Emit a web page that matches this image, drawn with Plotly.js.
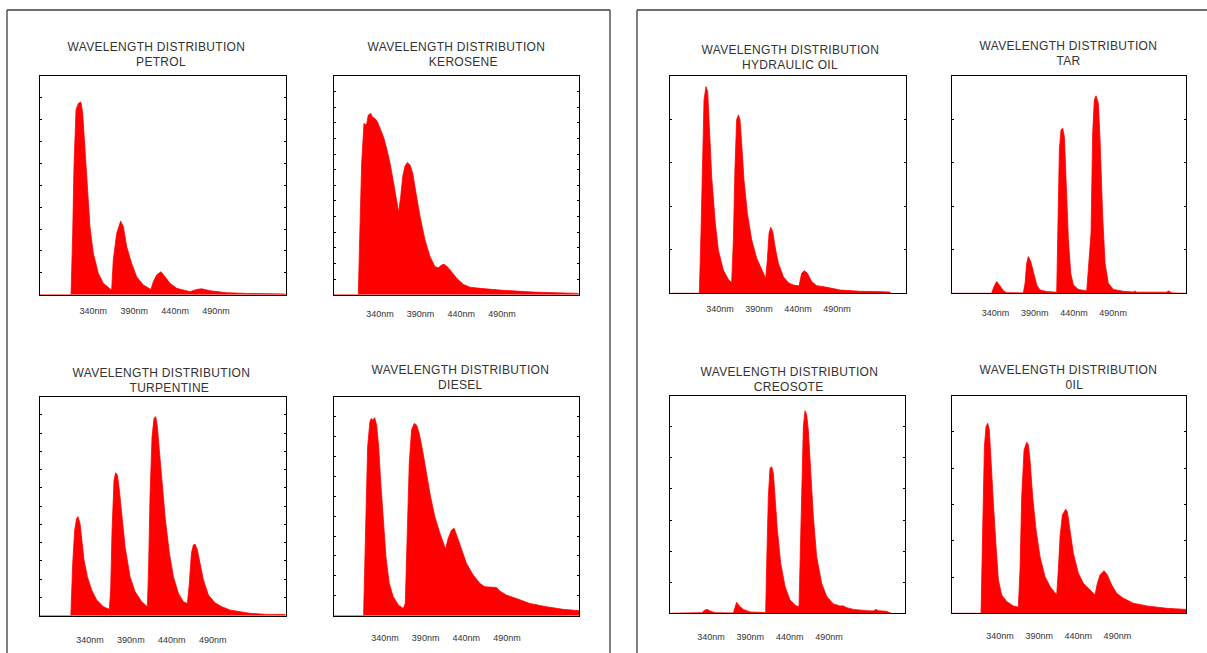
<!DOCTYPE html>
<html>
<head>
<meta charset="utf-8">
<script src="https://cdn.plot.ly/plotly-3.0.1.min.js"></script>
<style>
  html, body { margin: 0; padding: 0; background: #fff; }
  #chart { width: 1207px; height: 653px; }
  #chart .annotation-text { letter-spacing: 0.3px; }
</style>
</head>
<body>
<div id="chart"></div>
<script>
// ---------------- DATA ----------------
const chartTitle = 'WAVELENGTH DISTRIBUTION';
const categories = ['PETROL', 'KEROSENE', 'HYDRAULIC OIL', 'TAR', 'TURPENTINE', 'DIESEL', 'CREOSOTE', '0IL'];
const tickWavelengths = [340, 390, 440, 490];
const tickLabels = ['340nm', '390nm', '440nm', '490nm'];

const petrolNm  = [275, 312.9, 314.9, 316.5, 319, 321.8, 325, 327.1, 330, 332.8, 336, 340.1, 346.2, 352.3, 360.5, 362.5, 364.5, 368.6, 373.5, 376.8, 380.8, 386.9, 393, 401.2, 410.5, 413.4, 417.4, 422.7, 427.6, 433.7, 441.9, 458.1, 466.3, 472.4, 482.6, 502.9, 527.3, 575];
const petrolInt = [0, 0, 28, 58.5, 84.5, 87.5, 88, 82.9, 66.2, 49.4, 31.1, 18.9, 9.8, 5.2, 2.4, 2.1, 15.9, 28, 33.7, 31.1, 22, 14.3, 8.2, 4.4, 2.4, 5.9, 9, 10.5, 8.2, 5.2, 2.9, 1.4, 2.4, 2.7, 1.8, 0.9, 0.6, 0.3];

const keroseneNm  = [283.5, 313.4, 314.7, 317.5, 320.4, 321.6, 323.7, 325.7, 328.6, 331.1, 333.9, 336.8, 340.1, 344.2, 348.3, 352.4, 356.5, 360.6, 363, 365.5, 368, 370.8, 373.7, 377, 380.3, 384.4, 389.3, 395.4, 401.6, 407.7, 411.8, 415.9, 418.8, 422.9, 428.2, 434.4, 442.6, 450.8, 463.1, 487.7, 528.7, 584.4];
const keroseneInt = [0, 0, 20, 60, 78.4, 77.6, 78, 82.2, 82.9, 81.1, 80.6, 79.1, 76.1, 72.3, 66.9, 60.1, 51.7, 41.8, 37.7, 44.8, 54, 58.8, 60.4, 59.3, 55.5, 46.3, 35.7, 25, 17.4, 12.8, 12.3, 13.6, 13.9, 12.8, 10.5, 7.5, 4.7, 3.4, 2.9, 2.1, 1.2, 0.6];

const hydraulicNm  = [276, 313.6, 315.7, 317.9, 319.6, 322.1, 324.3, 326.4, 329.4, 333.7, 337.9, 344.3, 350.8, 355, 357.2, 359.3, 361.4, 363.6, 365.7, 367.8, 370.8, 375.1, 380.7, 387.1, 393.5, 398.6, 400.7, 402.9, 405, 407.6, 410.6, 414.8, 421.2, 427.6, 434.1, 441.3, 444.7, 448.1, 452, 457.5, 464, 476.8, 493.9, 519.5, 540.8, 557.9, 558.2];
const hydraulicInt = [0, 0, 27.6, 66, 89, 95.1, 92.8, 76.7, 53.7, 33.7, 19.9, 10.7, 6.4, 4.9, 24.5, 58.3, 79.8, 82.1, 79.8, 69, 52.1, 36.8, 24.5, 16.1, 10.7, 6.9, 15.3, 27.6, 30.4, 28.4, 21.5, 13.8, 7.7, 4.9, 3.8, 3.4, 9.2, 10.4, 9.2, 5.4, 3.5, 2.8, 1.5, 0.9, 0.8, 0.6, 0];

const tarNm  = [284, 335, 338, 341.4, 345.7, 349.9, 354.2, 375.4, 377.6, 379.7, 381.8, 384.8, 388.2, 392.5, 396.7, 405.2, 418, 419.3, 421.4, 423.5, 425.6, 427.8, 429.9, 432.9, 435.9, 439.3, 445.6, 456.3, 461.8, 463.9, 466, 468.2, 471.2, 473.3, 476.7, 479.7, 483.9, 490.3, 503.1, 515.8, 517.9, 520.1, 558.4, 560.5, 563.5, 566, 583];
const tarInt = [0, 0, 3.1, 5.4, 3.4, 1.2, 0.3, 0.15, 4.6, 13.8, 16.9, 14.6, 10, 3.8, 1.5, 0.8, 0.5, 27.6, 66, 75.2, 75.9, 72.1, 53.7, 24.5, 9.2, 3.8, 1.8, 1.1, 27.6, 73.6, 89, 90.9, 87.4, 70.6, 35.3, 13.8, 4.6, 1.8, 0.9, 0.6, 1.1, 0.5, 0.5, 1.1, 0.5, 0.15, 0];

const turpentineNm  = [278.9, 316.6, 318.9, 321.3, 323.7, 325.4, 327.8, 329.9, 332.7, 336.8, 342.1, 348.2, 356.4, 363.7, 365.3, 367, 369.4, 371.4, 373.5, 375.9, 378.8, 382.9, 389, 395.1, 403.2, 410.2, 411.8, 413.4, 415.9, 418.3, 420.4, 422.4, 424.8, 427.7, 431.8, 437.1, 442, 448.1, 454.2, 459.1, 461.5, 464, 466.4, 468.5, 471.3, 474.6, 478.7, 484.8, 492.9, 501.1, 511.3, 523.5, 535.7, 556.1, 579.3];
const turpentineInt = [0, 0, 23.9, 39.1, 44.4, 45.2, 42.2, 34.6, 25.4, 17.8, 11.7, 7.2, 4.1, 2.9, 11.7, 39.1, 61.9, 65.3, 64.2, 57.4, 45.2, 31.5, 17.8, 11, 6.4, 4.1, 23.9, 54.3, 81.7, 90.1, 90.9, 86.3, 75.6, 61.9, 45.2, 28.5, 17.8, 10.2, 6.4, 5.6, 14.8, 28.5, 32.3, 32.7, 30, 23.9, 16.3, 9.4, 5.9, 4.1, 2.6, 1.8, 1.1, 0.6, 0.6];

const dieselNm  = [277.5, 313.8, 316.3, 318.8, 321.6, 323.3, 324.9, 327.4, 329.8, 332.3, 334.7, 338, 341.3, 345.3, 350.2, 356.4, 362.5, 365, 367.4, 369.9, 372.7, 376, 378.8, 382.1, 386.2, 391.1, 396, 401.3, 407.5, 414.4, 417.7, 421.8, 425, 428.7, 434, 440.1, 448.3, 456.5, 462.6, 470.8, 476.9, 481, 489.2, 501.4, 517.8, 538.2, 558.7, 578.3];
const dieselInt = [0, 0, 39.1, 77.2, 88.6, 90.1, 89.3, 90.4, 87.1, 77.2, 61.9, 43.7, 26.9, 14.8, 8.7, 4.9, 3.3, 5.6, 39.1, 69.6, 84.8, 87.8, 87.1, 83.3, 75.6, 65, 54.3, 45.2, 37.6, 30.4, 35.3, 39.1, 39.9, 36.1, 30, 23.9, 18.6, 14.8, 13.2, 13.2, 12.9, 11.3, 9.4, 7.9, 5.6, 4.1, 2.9, 2.3];

const creosoteNm  = [287.9, 304.8, 328.2, 332.4, 335.4, 338.7, 345.1, 368.4, 370.5, 372.6, 376, 381.1, 389.6, 406.5, 409.5, 410.8, 412.9, 415, 417.1, 419.3, 421.4, 424.3, 428.6, 434.1, 440.4, 448.1, 451.9, 453.2, 455.3, 457.4, 459.5, 461.6, 463.7, 466.7, 470.1, 474.3, 480.7, 487.1, 495.5, 504, 508.2, 512.5, 521, 537.9, 546.4, 549.8, 552.7, 563.3, 568.4, 568.8];
const creosoteInt = [0, 0, 0.3, 1.5, 1.8, 1.1, 0.3, 0.15, 2.3, 5.1, 3.4, 1.8, 0.6, 0.15, 0.3, 23, 53.6, 66.6, 67.4, 64.3, 53.6, 38.3, 23, 12.3, 6.1, 3.4, 3.1, 23, 61.3, 85.8, 93.1, 91.1, 84.2, 65.8, 44.4, 26, 13.8, 7.7, 4.3, 3.4, 3.4, 2.6, 1.8, 1.2, 1.1, 1.8, 1.2, 0.9, 0.3, 0];

const oilNm  = [278.2, 314.4, 315.7, 317.8, 320, 322.1, 324.2, 326.3, 328.5, 331.5, 334.9, 337.9, 342.1, 348.5, 357, 363.4, 365.5, 367.7, 370.7, 374.1, 376.2, 378.3, 381.7, 386, 391.1, 397.5, 403.9, 410.3, 412.4, 414.5, 416.7, 419.7, 423.9, 426, 429.5, 433.7, 440.1, 446.5, 455, 461.4, 464.4, 467.8, 472.9, 477.2, 482.7, 489.1, 497.6, 510.4, 527.5, 553, 577.7];
const oilInt = [0, 0, 0, 38.3, 76.6, 85.8, 87.3, 84.2, 72, 50.5, 30.6, 15.3, 8.4, 5.4, 3.4, 2.8, 19.9, 53.6, 75, 78.6, 77.3, 70.4, 53.6, 38.3, 26, 16.8, 12.3, 9.2, 8.4, 19.9, 35.2, 45.2, 47.8, 46.7, 38.3, 27.6, 18.4, 13.8, 10.7, 8.4, 13.8, 17.6, 19.6, 17.6, 13, 9.2, 6.9, 4.6, 3.4, 2.3, 1.8];

const seriesNm  = [petrolNm, keroseneNm, hydraulicNm, tarNm, turpentineNm, dieselNm, creosoteNm, oilNm];
const seriesInt = [petrolInt, keroseneInt, hydraulicInt, tarInt, turpentineInt, dieselInt, creosoteInt, oilInt];

// ---------------- LAYOUT (positions in page pixels) ----------------
const W = 1207, H = 653;
const panels = [
  {bx:[40, 285.7],  by:[76, 294.7],   xr:[275, 575],     ny:10, nx:12, top:true,  t1:[156, 47],    t2:[160.8, 62.2], lab:15},
  {bx:[334, 578.7], by:[76, 294.7],   xr:[283.5, 584.4], ny:14, nx:12, top:true,  t1:[456.7, 47],  t2:[463.3, 62.2], lab:18},
  {bx:[670, 905.7], by:[76, 293.3],   xr:[276, 578],     ny:5,  nx:14, top:true,  t1:[790, 50],    t2:[789.7, 65],   lab:15},
  {bx:[951.7, 1186],by:[76, 293.3],   xr:[284, 583],     ny:5,  nx:14, top:true,  t1:[1068, 46],   t2:[1068.3, 61],  lab:19},
  {bx:[40, 285.7],  by:[396.7, 615.7],xr:[278.9, 579.3], ny:12, nx:12, top:true,  t1:[161.7, 373], t2:[169.7, 388],  lab:23},
  {bx:[334, 579],   by:[396.7, 615.7],xr:[277.5, 578.3], ny:11, nx:12, top:true,  t1:[460.5, 370], t2:[460.8, 385],  lab:21},
  {bx:[670, 905],   by:[395.7, 613.3],xr:[287.9, 586.6], ny:7,  nx:12, top:false, t1:[789, 372],   t2:[788.8, 387],  lab:23},
  {bx:[951.7, 1186],by:[395.7, 613.3],xr:[278.2, 577.7], ny:6,  nx:12, top:false, t1:[1068, 370],  t2:[1074, 385],   lab:22}
];

const FONT = 'Liberation Sans, Arial, Helvetica, sans-serif';
const traces = [];
const layout = {
  width: W, height: H,
  margin: {l: 0, r: 0, t: 0, b: 0},
  paper_bgcolor: '#ffffff', plot_bgcolor: '#ffffff',
  showlegend: false,
  annotations: [],
  shapes: []
};

panels.forEach((p, i) => {
  const n = i + 1;
  const xid = 'x' + (n === 1 ? '' : n), yid = 'y' + (n === 1 ? '' : n);
  const xkey = 'xaxis' + (n === 1 ? '' : n), ykey = 'yaxis' + (n === 1 ? '' : n);
  const xdom = [p.bx[0] / W, p.bx[1] / W];
  const ydom = [1 - p.by[1] / H, 1 - p.by[0] / H];

  traces.push({
    type: 'scatter', mode: 'lines',
    x: seriesNm[i], y: seriesInt[i],
    xaxis: xid, yaxis: yid,
    fill: 'tozeroy', fillcolor: '#ff0000',
    line: {color: '#ff0000', width: 0.8},
    hoverinfo: 'skip', name: categories[i]
  });

  layout[xkey] = {
    domain: xdom, anchor: yid, range: p.xr,
    tickmode: 'array', tickvals: tickWavelengths, ticktext: tickLabels,
    ticks: '', showline: true, mirror: true, linecolor: '#000', linewidth: 1,
    showgrid: false, zeroline: false, fixedrange: true,
    tickfont: {family: FONT, size: 9, color: '#333'},
    ticklabelstandoff: Math.max(0, p.lab - 8)
  };
  layout[ykey] = {
    domain: ydom, anchor: xid, range: [0, 100],
    tick0: 0, dtick: 100 / p.ny, ticks: 'inside', ticklen: 2, tickcolor: '#000',
    showline: true, mirror: 'ticks', linecolor: '#000', linewidth: 1,
    showticklabels: false, showgrid: false, zeroline: false, fixedrange: true
  };
  const tk = 'xaxis' + (n + 8);
  layout[tk] = {
    overlaying: xid, anchor: yid, side: p.top ? 'top' : 'bottom', range: p.xr,
    tick0: p.xr[0], dtick: (p.xr[1] - p.xr[0]) / p.nx,
    ticks: 'inside', ticklen: 2, tickcolor: '#000',
    mirror: p.top ? 'ticks' : false,
    showticklabels: false, showline: false, showgrid: false, zeroline: false, fixedrange: true
  };

  layout.annotations.push({
    xref: 'paper', yref: 'paper', x: p.t1[0] / W, y: 1 - p.t1[1] / H,
    xanchor: 'center', yanchor: 'middle', showarrow: false,
    text: chartTitle, font: {family: FONT, size: 12, color: '#333'}
  });
  layout.annotations.push({
    xref: 'paper', yref: 'paper', x: p.t2[0] / W, y: 1 - p.t2[1] / H,
    xanchor: 'center', yanchor: 'middle', showarrow: false,
    text: categories[i], font: {family: FONT, size: 12, color: '#333'}
  });
});

// panel frames
const frameLine = {color: '#3c3c3c', width: 1.3};
[
  [7, 10, 7, 660], [7, 10, 610, 10], [610, 10, 610, 660],
  [637, 10, 637, 660], [637, 10, 1210, 10]
].forEach(s => layout.shapes.push({
  type: 'line', xref: 'paper', yref: 'paper',
  x0: s[0] / W, y0: 1 - s[1] / H, x1: s[2] / W, y1: 1 - s[3] / H,
  line: frameLine
}));

Plotly.newPlot('chart', traces, layout, {displayModeBar: false, staticPlot: true});
</script>
</body>
</html>
